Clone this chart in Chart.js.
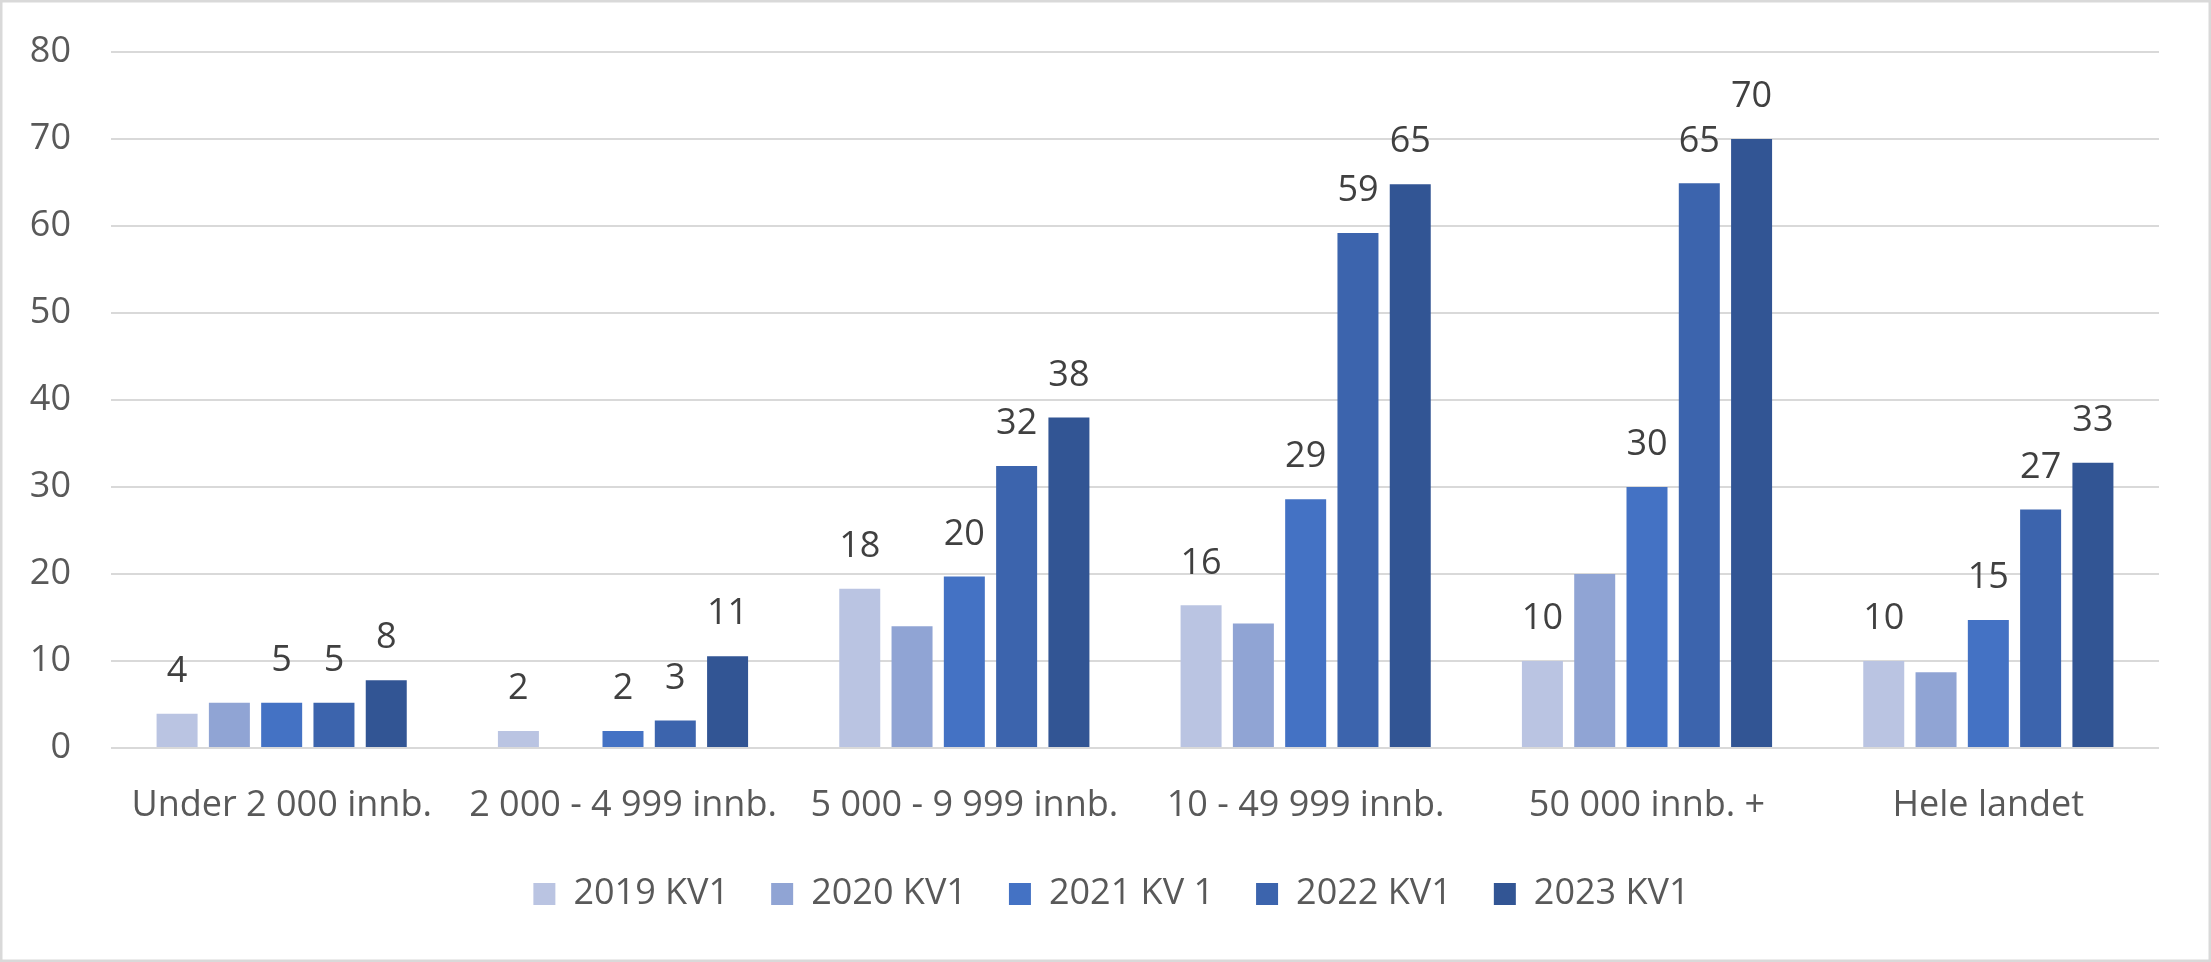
<!DOCTYPE html>
<html>
<head>
<meta charset="utf-8">
<script src="https://cdn.jsdelivr.net/npm/chart.js@4.4.1/dist/chart.umd.min.js"></script>
<style>
  html, body { margin: 0; padding: 0; background: #ffffff; }
  #wrap { width: 2211px; height: 962px; position: relative; }
</style>
</head>
<body>
<div id="wrap"><canvas id="c"></canvas></div>
<script>
// ---- data ----
const categories = ["Under 2 000 innb.", "2 000 - 4 999 innb.", "5 000 - 9 999 innb.", "10 - 49 999 innb.", "50 000 innb. +", "Hele landet"];
const seriesNames = ["2019 KV1", "2020 KV1", "2021 KV 1", "2022 KV1", "2023 KV1"];
const s2019 = [3.95, 1.95, 18.3, 16.4, 10.0, 10.0];
const s2020 = [5.2, 0, 14.0, 14.3, 20.0, 8.7];
const s2021 = [5.2, 1.95, 19.7, 28.6, 30.0, 14.7];
const s2022 = [5.2, 3.15, 32.4, 59.2, 64.9, 27.4];
const s2023 = [7.8, 10.55, 38.0, 64.8, 70.0, 32.8];
const yTicks = [0, 10, 20, 30, 40, 50, 60, 70, 80];
const labelledSeries = [true, false, true, true, true];

const colors = ["#BAC4E2", "#90A4D4", "#4472C4", "#3C64AD", "#325594"];
const FONT = "'Open Sans', 'Noto Sans', sans-serif";

const seriesValues = [s2019, s2020, s2021, s2022, s2023];
const datasets = seriesValues.map((vals, i) => ({
  label: seriesNames[i],
  data: vals,
  backgroundColor: colors[i],
  borderWidth: 0,
  categoryPercentage: 0.766,
  barPercentage: 0.784
}));

const valueLabels = {
  id: 'valueLabels',
  afterDatasetsDraw(chart) {
    const ctx = chart.ctx;
    ctx.save();
    ctx.font = "36px " + FONT;
    ctx.fillStyle = "#404040";
    ctx.textAlign = "center";
    ctx.textBaseline = "middle";
    chart.data.datasets.forEach((ds, di) => {
      if (!labelledSeries[di]) return;
      const meta = chart.getDatasetMeta(di);
      meta.data.forEach((bar, j) => {
        const v = ds.data[j];
        if (!v) return;
        ctx.fillText(String(Math.round(v)), bar.x, bar.y - 42);
      });
    });
    ctx.restore();
  }
};

// shift the bottom legend so it sits centred like the original
const legendShift = {
  id: 'legendShift',
  afterLayout(chart) {
    const lg = chart.legend;
    if (!lg) return;
    const dx = 32;
    lg.left += dx; lg.right += dx;
    if (lg.legendHitBoxes) lg.legendHitBoxes.forEach(h => { h.left += dx; });
  }
};

const frame = {
  id: 'frame',
  beforeDraw(chart) {
    const ctx = chart.ctx;
    ctx.save();
    ctx.fillStyle = "#ffffff";
    ctx.fillRect(0, 0, chart.width, chart.height);
    ctx.restore();
  },
  afterDraw(chart) {
    const ctx = chart.ctx;
    ctx.save();
    ctx.strokeStyle = "#D9D9D9";
    ctx.lineWidth = 2.5;
    ctx.strokeRect(1.25, 1.25, chart.width - 2.5, chart.height - 2.5);
    ctx.restore();
  }
};

new Chart(document.getElementById('c'), {
  type: 'bar',
  data: { labels: categories, datasets },
  plugins: [frame, valueLabels, legendShift],
  options: {
    responsive: true,
    maintainAspectRatio: false,
    animation: false,
    devicePixelRatio: 1,
    layout: { padding: { left: 0, right: 52, top: 52, bottom: 40 } },
    plugins: {
      tooltip: { enabled: false },
      legend: {
        position: 'bottom',
        labels: {
          boxWidth: 22,
          boxHeight: 22,
          padding: 42,
          color: "#595959",
          font: { family: FONT, size: 36 }
        }
      }
    },
    scales: {
      x: {
        grid: { display: false },
        border: { display: false },
        ticks: {
          color: "#595959",
          font: { family: FONT, size: 36 },
          padding: 28,
          maxRotation: 0,
          autoSkip: false
        },
        afterFit(scale) { scale.height = 86; }
      },
      y: {
        min: 0,
        max: 80,
        afterBuildTicks(scale) { scale.ticks = yTicks.map(v => ({ value: v })); },
        grid: { color: "#D9D9D9", lineWidth: 2, drawTicks: false },
        border: { display: false },
        ticks: {
          color: "#595959",
          font: { family: FONT, size: 36 },
          padding: 40
        },
        afterFit(scale) {
          scale.width = 111;
          scale.paddingTop = 0;
          scale.paddingBottom = 0;
        }
      }
    }
  }
});
</script>
</body>
</html>
